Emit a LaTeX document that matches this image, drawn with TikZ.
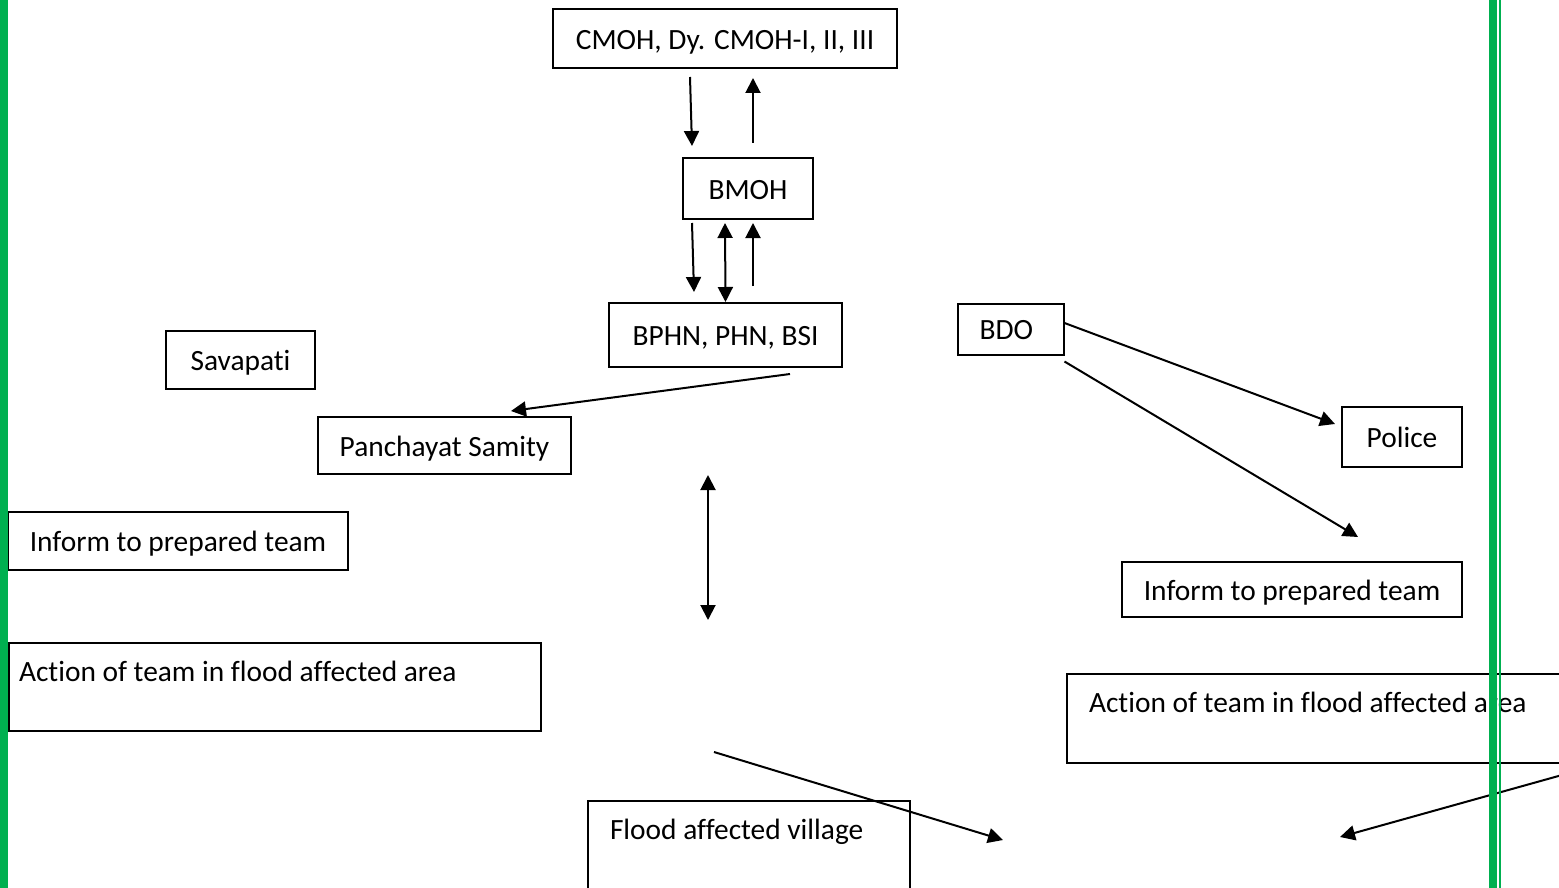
\documentclass[tikz,border=0pt]{standalone}
\usepackage{fontspec}
\setmainfont{Carlito}[Ligatures=NoCommon]
\usetikzlibrary{arrows.meta}
\definecolor{wordgreen}{HTML}{00B050}
\tikzset{
  box/.style={draw=black,line width=1pt,inner sep=0pt,align=center,
    text height=10.6pt,text depth=0pt},
  topbox/.style={draw=black,line width=1pt,inner ysep=0pt,align=flush left,
    text height=19pt,anchor=north west},
  arr/.style={line width=1pt,-{Triangle[length=7.5pt,width=7.5pt]}},
  dblarr/.style={line width=1pt,{Triangle[length=7.5pt,width=7.5pt]}-{Triangle[length=7.5pt,width=7.5pt]}},
}
\begin{document}
\begin{tikzpicture}[x=0.5pt,y=-0.5pt,every node/.style={font=\fontsize{14.7}{17.6}\selectfont}]
\clip (0,0) rectangle (1559,888);
\fill[white] (0,0) rectangle (1559,888);
% chain of health officers
\node[box,minimum width=172pt,minimum height=29.5pt] (cmoh) at (725,38.5) {CMOH, Dy. CMOH-I, II, III};
\node[box,minimum width=65pt,minimum height=30.5pt] (bmoh) at (748,188.5) {BMOH};
\node[box,minimum width=116.5pt,minimum height=32pt] (bphn) at (725.5,335) {BPHN, PHN, BSI};
\node[box,minimum width=74.5pt,minimum height=29pt] (savapati) at (240.5,360) {Savapati};
\node[box,minimum width=126.5pt,minimum height=28.5pt] (samity) at (444.5,445.5) {Panchayat Samity};
\node[box,minimum width=170pt,minimum height=29pt] (informL) at (178,540.5) {Inform to prepared team};
\node[topbox,inner xsep=5pt,text width=256pt,text depth=25pt] (actionL) at (8,642) {Action of team in flood affected area};
% block side
\node[box,minimum width=53pt,minimum height=25.5pt,text width=31pt,align=flush left] (bdo) at (1010.5,329) {BDO};
\node[box,minimum width=60pt,minimum height=30pt] (police) at (1402,437) {Police};
\node[box,minimum width=170pt,minimum height=27.5pt] (informR) at (1292,589.5) {Inform to prepared team};
\node[topbox,inner xsep=11pt,text width=244pt,text depth=25.5pt] (actionR) at (1066,673) {Action of team in flood affected area};
\node[topbox,inner xsep=11pt,text width=139pt,text depth=26pt] (village) at (587,800) {Flood affected village};
% free ends
\coordinate (vtop) at (708,475);
\coordinate (vbot) at (708,620);
\coordinate (vilfrom) at (714,752);
\coordinate (vilto) at (1003,840);
\coordinate (rfrom) at (1580,770);
\coordinate (rto) at (1340,837);
% connectors
\draw[arr] ([shift={(-35,8)}]cmoh.south) -- ([shift={(-56,-11)}]bmoh.north);
\draw[arr] ([shift={(5,-14)}]bmoh.north) -- ([shift={(28,9)}]cmoh.south);
\draw[arr] ([shift={(-56,3)}]bmoh.south) -- ([shift={(-31.5,-10)}]bphn.north);
\draw[dblarr] ([shift={(-23,3)}]bmoh.south) -- (bphn.north);
\draw[arr] ([shift={(27.5,-16)}]bphn.north) -- ([shift={(5,3)}]bmoh.south);
\draw[arr] ([shift={(64.5,6)}]bphn.south) -- ([shift={(66.5,-5)}]samity.north);
\draw[dblarr] (vtop) -- (vbot);
\draw[arr] ([yshift=3]bdo.east) -- ([shift={(-6,-13)}]police.west);
\draw[arr] ([yshift=-3]bdo.south east) -- ([shift={(66,-24)}]informR.north);
\draw[arr] (vilfrom) -- (vilto);
\draw[arr] (rfrom) -- (rto);
% page borders
\fill[wordgreen] (0,0) rectangle (8,888);
\fill[wordgreen] (1489,0) rectangle (1497,888);
\fill[wordgreen] (1499,0) rectangle (1501,888);
\end{tikzpicture}
\end{document}
